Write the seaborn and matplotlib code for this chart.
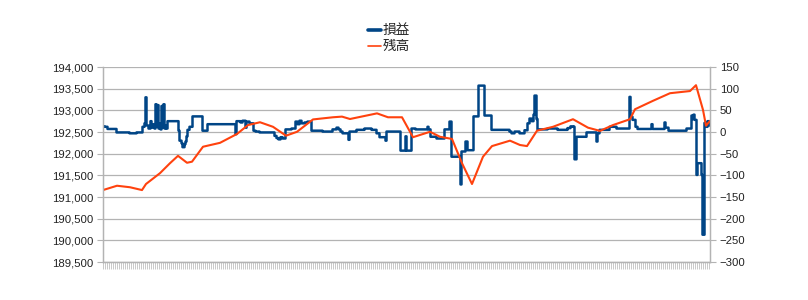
import numpy as np
import pandas as pd
import matplotlib
matplotlib.use("Agg")
import matplotlib.pyplot as plt
import seaborn as sns
from matplotlib.lines import Line2D
from matplotlib.ticker import FuncFormatter

# ---- data -----------------------------------------------------------
n_records = 608

# 損益 (right axis): record index where a value starts, and the value
pl_start = [0, 2, 5, 14, 27, 34, 40, 42, 43, 44, 46, 48, 49, 51, 52, 53, 54, 55, 56, 57,
            58, 59, 60, 61, 62, 63, 64, 65, 76, 77, 79, 80, 82, 83, 84, 85, 87, 90, 100, 105,
            133, 134, 138, 140, 143, 144, 147, 151, 153, 157, 172, 174, 176, 178, 180, 183, 189, 193, 195, 197,
            199, 202, 205, 209, 220, 230, 234, 236, 238, 240, 246, 247, 254, 262, 269, 274, 277, 283, 284, 298,
            303, 304, 309, 313, 325, 326, 328, 334, 342, 347, 349, 358, 359, 363, 365, 371, 376, 382, 389, 407,
            409, 412, 417, 422, 425, 427, 429, 431, 432, 434, 435, 445, 455, 465, 468, 471, 472, 474, 484, 494,
            495, 497, 507, 514, 527, 528, 530, 533, 535, 549, 550, 562, 563, 566, 584, 589, 590, 591, 592, 594,
            595, 599, 600, 602, 604, 605, 607]
pl_value = [13, 12, 7, -1, -3, -1, 12, 20, 80, 15, 8, 25, 10, 18, 8, 64, 12, 62, 8, 20,
            6, 60, 10, 64, 8, 15, 8, 25, 3, -20, -26, -35, -28, -22, -10, 5, 12, 36, 3, 18,
            -5, 25, 22, 26, 10, 24, 20, 3, 1, -1, -9, -14, -17, -12, -15, 6, 8, 24, 18, 26,
            20, 22, 24, 3, 1, 6, 10, 6, 1, -3, -18, 1, 5, 8, 5, -3, -12, -20, 1, -43,
            -10, -43, 8, 6, 12, 6, -11, -15, 6, 24, -57, -121, -45, -22, -42, 36, 107, 38, 5, 1,
            -3, 1, -3, 4, 20, 31, 25, 40, 84, 30, 6, 8, 5, 9, 13, 12, -63, -11, -1, -22,
            -3, 5, 12, 8, 81, 35, 28, 12, 7, 18, 7, 22, 10, 3, 8, 38, 30, 40, 28, -99,
            -72, -99, -237, 21, 12, 25, 15]

# 残高 (left axis)
bal_index = [0, 14, 27, 39, 43, 57, 67, 75, 84, 89, 100, 117, 134, 145, 157, 170, 183, 194, 210, 230,
             239, 247, 274, 285, 299, 310, 327, 337, 349, 359, 369, 380, 389, 407, 417, 424, 434, 450, 470, 485,
             497, 510, 527, 532, 550, 567, 587, 593, 600, 603, 607]
bal_value = [191160, 191260, 191225, 191160, 191300, 191550, 191780, 191950, 191790, 191815,
             192160, 192250, 192455, 192660, 192725, 192620, 192415, 192505, 192790, 192840,
             192855, 192800, 192930, 192840, 192840, 192380, 192505, 192390, 192340, 191780,
             191300, 191930, 192175, 192300, 192200, 192175, 192530, 192620, 192795, 192600,
             192525, 192660, 192795, 193025, 193220, 193395, 193445, 193580, 193010, 192645,
             192755]

series_names = ["損益", "残高"]
left_ticks = list(range(189500, 194001, 500))
right_ticks = list(range(-300, 151, 50))

# ---- build frames -----------------------------------------------------
lengths = np.diff(pl_start + [n_records])
pl_series = np.repeat(pl_value, lengths)
df_pl = pd.DataFrame({"idx": np.arange(n_records), "v": pl_series})
df_bal = pd.DataFrame({"idx": bal_index, "v": bal_value})

sns.set_theme(style="white")
plt.rcParams["font.family"] = ["Liberation Sans", "DejaVu Sans"]

BLUE = "#004586"
ORANGE = "#ff420e"
GRID = "#b3b3b3"

fig = plt.figure(figsize=(8.08, 3.0), dpi=100)
ax_l = fig.add_axes([103 / 808, 1 - 262 / 300, 607 / 808, 195 / 300])
ax_r = ax_l.twinx()

ax_r.set_zorder(1)
ax_l.set_zorder(2)
ax_l.patch.set_visible(False)
ax_r.patch.set_visible(False)

sns.lineplot(data=df_pl, x="idx", y="v", ax=ax_r, color=BLUE, linewidth=1.8,
             drawstyle="steps-mid", estimator=None, legend=False)
sns.lineplot(data=df_bal, x="idx", y="v", ax=ax_l, color=ORANGE, linewidth=1.5,
             estimator=None, legend=False)

for a in (ax_l, ax_r):
    a.set_xlabel("")
    a.set_ylabel("")
    a.set_xlim(0, n_records - 1)
    for s in ("left", "right", "bottom"):
        a.spines[s].set_visible(True)
        a.spines[s].set_color(GRID)
        a.spines[s].set_linewidth(0.9)
    a.spines["top"].set_visible(False)

ax_l.set_ylim(left_ticks[0], left_ticks[-1])
ax_l.set_yticks(left_ticks)
ax_l.yaxis.set_major_formatter(FuncFormatter(lambda v, p: f"{int(v):,}"))
ax_r.set_ylim(right_ticks[0], right_ticks[-1])
ax_r.set_yticks(right_ticks)

ax_r.yaxis.grid(True, color=GRID, linewidth=0.9)
ax_l.grid(False)
ax_r.xaxis.grid(False)

ax_l.tick_params(axis="y", direction="out", length=4, width=0.8, color=GRID,
                 labelsize=8.2, labelcolor="#222222", pad=3, left=True)
ax_r.tick_params(axis="y", direction="out", length=4, width=0.8, color=GRID,
                 labelsize=8.2, labelcolor="#222222", pad=3, right=True)

ax_l.set_xticks(np.arange(0, n_records, 2))
ax_l.set_xticklabels([])
ax_l.tick_params(axis="x", direction="out", length=5, width=0.5, color=GRID, bottom=True)

handles = [Line2D([], [], color=BLUE, lw=2.6), Line2D([], [], color=ORANGE, lw=1.2)]
fig.legend(handles=handles, labels=series_names, loc="upper center",
           bbox_to_anchor=(0.4814, 0.945), frameon=False,
           prop={"family": ["Noto Sans CJK JP", "DejaVu Sans"], "size": 9.8},
           handlelength=1.0, handletextpad=0.1, labelspacing=0.15, borderpad=0)

fig.savefig("out.png", dpi=100)
